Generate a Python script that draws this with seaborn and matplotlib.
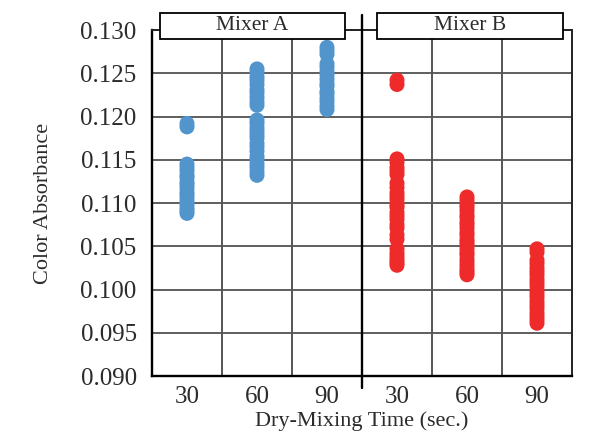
import numpy as np
import pandas as pd
import seaborn as sns
import matplotlib
matplotlib.use("Agg")
import matplotlib.pyplot as plt
from matplotlib.patches import Rectangle
from matplotlib.lines import Line2D

# ---- data ----
mixers = ["Mixer A", "Mixer B"]
times = ["30", "60", "90"]

a30 = [0.1192, 0.1188, 0.1145, 0.1141, 0.1137, 0.1132, 0.1129, 0.1124, 0.1121,
       0.1117, 0.1112, 0.1109, 0.1105, 0.1101, 0.1098, 0.1094, 0.1091, 0.1088]
a60 = [0.1255, 0.1251, 0.1246, 0.1242, 0.1237, 0.1231, 0.1227, 0.1222, 0.1217,
       0.1213, 0.1196, 0.1192, 0.1187, 0.1183, 0.1179, 0.1175, 0.1169, 0.1165,
       0.1160, 0.1154, 0.1150, 0.1145, 0.1141, 0.1136, 0.1132]
a90 = [0.1280, 0.1276, 0.1272, 0.1261, 0.1257, 0.1252, 0.1248, 0.1243, 0.1238,
       0.1235, 0.1229, 0.1226, 0.1221, 0.1217, 0.1212, 0.1208]
b30 = [0.1242, 0.1237, 0.1151, 0.1147, 0.1141, 0.1137, 0.1133, 0.1123, 0.1118,
       0.1112, 0.1108, 0.1104, 0.1098, 0.1095, 0.1089, 0.1085, 0.1081, 0.1075,
       0.1071, 0.1063, 0.1058, 0.1047, 0.1042, 0.1038, 0.1034, 0.1031, 0.1028]
b60 = [0.1107, 0.1103, 0.1098, 0.1095, 0.1091, 0.1086, 0.1083, 0.1078, 0.1075,
       0.1071, 0.1066, 0.1063, 0.1058, 0.1055, 0.1052, 0.1047, 0.1043, 0.1040,
       0.1035, 0.1031, 0.1027, 0.1023, 0.1020, 0.1017]
b90 = [0.1047, 0.1043, 0.1034, 0.1030, 0.1025, 0.1021, 0.1017, 0.1012, 0.1008,
       0.1004, 0.0999, 0.0995, 0.0991, 0.0986, 0.0982, 0.0978, 0.0973, 0.0969,
       0.0965, 0.0961]

ytick_vals = [0.090, 0.095, 0.100, 0.105, 0.110, 0.115, 0.120, 0.125, 0.130]
ytick_labels = ["0.090", "0.095", "0.100", "0.105", "0.110", "0.115", "0.120", "0.125", "0.130"]

series = {("Mixer A", "30"): a30, ("Mixer A", "60"): a60, ("Mixer A", "90"): a90,
          ("Mixer B", "30"): b30, ("Mixer B", "60"): b60, ("Mixer B", "90"): b90}

rows = []
for (m, t), vals in series.items():
    for v in vals:
        rows.append({"mixer": m, "time": t, "slot": f"{m} {t}", "value": v})
df = pd.DataFrame(rows)
order = [f"{m} {t}" for m in mixers for t in times]

# ---- plot ----
sns.set_style("white")
plt.rcParams["font.family"] = ["Liberation Serif", "DejaVu Serif"]
TXT = "#2b2b2b"

fig = plt.figure(figsize=(5.92, 4.4), dpi=100)
ax = fig.add_axes([152 / 592, 1 - 376 / 440, 420 / 592, 346 / 440])

sns.stripplot(data=df, x="slot", y="value", hue="mixer", order=order,
              palette={"Mixer A": "#5195cc", "Mixer B": "#ee2a2a"},
              jitter=False, size=10.8, linewidth=0, legend=False, ax=ax, zorder=5)

ax.set_xlim(-0.5, 5.5)
ax.set_ylim(0.090, 0.130)

# horizontal grid
for v in ytick_vals:
    ax.axhline(v, color="#333333", lw=1.1, zorder=1)
# vertical separators
for xb in [0.5, 1.5, 3.5, 4.5]:
    ax.axvline(xb, color="#555555", lw=1.4, zorder=1)
# middle panel separator, extending beyond the axes
ax.add_line(Line2D([2.5, 2.5], [-12 / 346, 1 + 15 / 346], color="black", lw=1.7,
                   transform=ax.get_xaxis_transform(), clip_on=False, zorder=6))

for s in ["left", "bottom"]:
    ax.spines[s].set_color("black")
    ax.spines[s].set_linewidth(1.7)
for s in ["top", "right"]:
    ax.spines[s].set_color("#222222")
    ax.spines[s].set_linewidth(1.4)

ax.set_yticks(ytick_vals)
ax.set_yticklabels(ytick_labels)
ax.set_xticks(range(6))
ax.set_xticklabels([t for m in mixers for t in times])
ax.set_xticks([-0.5, 0.5, 1.5, 3.5, 4.5, 5.5], minor=True)
ax.tick_params(axis="x", which="major", length=0, pad=7, labelsize=18, labelcolor=TXT)
ax.tick_params(axis="x", which="minor", length=7, width=1.7, direction="out", color="black")
ax.tick_params(axis="y", length=6, width=1.7, direction="out", color="black",
               labelsize=18, labelcolor=TXT, pad=5)

ax.set_xlabel("Dry-Mixing Time (sec.)", fontsize=16, color=TXT, labelpad=2.5)
ax.set_ylabel("Color Absorbance", fontsize=16, color=TXT, labelpad=20)

# facet header boxes
for (x0, x1), label in [((8, 193), "Mixer A"), ((225, 411), "Mixer B")]:
    r = Rectangle((x0 / 420, 337 / 346), (x1 - x0) / 420, 26 / 346,
                  transform=ax.transAxes, facecolor="white", edgecolor="black",
                  lw=1.3, clip_on=False, zorder=20)
    ax.add_patch(r)
    ax.text((x0 + x1) / 2 / 420, 350 / 346, label, transform=ax.transAxes,
            ha="center", va="center", fontsize=15.5, color=TXT, zorder=21,
            clip_on=False)

fig.savefig("out.png", dpi=100)
